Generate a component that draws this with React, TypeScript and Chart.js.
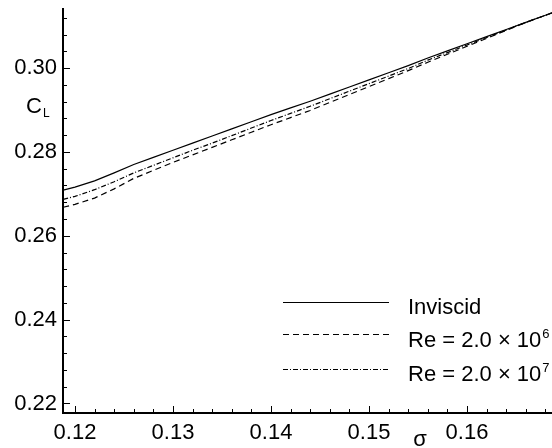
import React, { useEffect, useRef } from 'react';
import { Chart, registerables } from 'chart.js';

Chart.register(...registerables);

// ---- data ----
const sigma = [
  0.1188, 0.120, 0.122, 0.124, 0.126, 0.128, 0.130, 0.132, 0.134, 0.136, 0.138, 0.140, 0.142,
  0.144, 0.146, 0.148, 0.150, 0.152, 0.154, 0.156, 0.158, 0.160, 0.162, 0.164, 0.166, 0.168, 0.1687,
];
const inviscid = [
  0.2709, 0.2716, 0.2731, 0.2750, 0.2770, 0.2787, 0.2804, 0.2821, 0.2838, 0.2855, 0.2872, 0.2889, 0.2905,
  0.2921, 0.2938, 0.2955, 0.2972, 0.2989, 0.3006, 0.3024, 0.3041, 0.3058, 0.3075, 0.3092, 0.3109, 0.3126, 0.3132,
];
const re2e6 = [
  0.2668, 0.2675, 0.2690, 0.2712, 0.2737, 0.2756, 0.2775, 0.2793, 0.2811, 0.2829, 0.2847, 0.2865, 0.2882,
  0.2899, 0.2918, 0.2937, 0.2956, 0.2975, 0.2994, 0.3014, 0.3033, 0.3052, 0.3071, 0.3090, 0.3109, 0.3126, 0.3132,
];
const re2e7 = [
  0.2687, 0.2694, 0.2710, 0.2729, 0.2750, 0.2768, 0.2786, 0.2804, 0.2821, 0.2839, 0.2857, 0.2875, 0.2892,
  0.2909, 0.2927, 0.2945, 0.2963, 0.2981, 0.2999, 0.3019, 0.3037, 0.3055, 0.3073, 0.3091, 0.3109, 0.3126, 0.3132,
];
const xTicks = [0.12, 0.13, 0.14, 0.15, 0.16];
const yTicks = [0.22, 0.24, 0.26, 0.28, 0.30];
const xRange = [0.11878, 0.16867];
const yRange = [0.21773, 0.3141];
const xMinorStep = 0.002;
const yMinorStep = 0.004;
const seriesNames = ['Inviscid', 'Re = 2.0 × 10', 'Re = 2.0 × 10'];
const seriesExponents = ['', '6', '7'];
const xTitle = 'σ';
const yTitle = 'C';
const yTitleSub = 'L';

const FONT = "'Liberation Sans', Arial, Helvetica, sans-serif";

const decorPlugin = {
  id: 'decor',
  afterDraw(chart: any) {
    const ctx = chart.ctx as CanvasRenderingContext2D;
    const xs = chart.scales.x;
    const ys = chart.scales.y;
    const ca = chart.chartArea;
    ctx.save();
    ctx.strokeStyle = '#000';
    ctx.lineWidth = 1;
    // x ticks (inward)
    const kx0 = Math.ceil(xs.min / xMinorStep - 1e-6);
    const kx1 = Math.floor(xs.max / xMinorStep + 1e-6);
    for (let k = kx0; k <= kx1; k++) {
      const v = k * xMinorStep;
      const major = xTicks.some((t) => Math.abs(t - v) < 1e-6);
      const px = Math.round(xs.getPixelForValue(v)) + 0.5;
      const len = major ? 7 : 4;
      ctx.beginPath();
      ctx.moveTo(px, ca.bottom);
      ctx.lineTo(px, ca.bottom - len);
      ctx.stroke();
    }
    // y ticks (inward)
    const ky0 = Math.ceil(ys.min / yMinorStep - 1e-6);
    const ky1 = Math.floor(ys.max / yMinorStep + 1e-6);
    for (let k = ky0; k <= ky1; k++) {
      const v = k * yMinorStep;
      const major = yTicks.some((t) => Math.abs(t - v) < 1e-6);
      const py = Math.round(ys.getPixelForValue(v)) + 0.5;
      const len = major ? 7 : 4;
      ctx.beginPath();
      ctx.moveTo(ca.left, py);
      ctx.lineTo(ca.left + len, py);
      ctx.stroke();
    }
    // axis titles
    ctx.fillStyle = '#000';
    ctx.textBaseline = 'alphabetic';
    ctx.textAlign = 'left';
    ctx.font = `22px ${FONT}`;
    ctx.fillText(yTitle, 26, 113);
    const cw = ctx.measureText(yTitle).width;
    ctx.font = `12px ${FONT}`;
    ctx.fillText(yTitleSub, 26 + cw + 1, 117);
    ctx.font = `22px ${FONT}`;
    ctx.textAlign = 'center';
    ctx.fillText(xTitle, 420, 446);

    // legend
    const lineX0 = 283;
    const lineX1 = 389;
    const textX = 408;
    const lineYs = [302, 334, 369];
    const baseYs = [314, 347, 381];
    chart.data.datasets.forEach((ds: any, i: number) => {
      ctx.save();
      ctx.strokeStyle = ds.borderColor;
      ctx.lineWidth = ds.borderWidth;
      ctx.setLineDash(ds.borderDash || []);
      ctx.beginPath();
      ctx.moveTo(lineX0, lineYs[i] + 0.5);
      ctx.lineTo(lineX1, lineYs[i] + 0.5);
      ctx.stroke();
      ctx.restore();
      ctx.textAlign = 'left';
      ctx.font = `22px ${FONT}`;
      ctx.fillText(seriesNames[i], textX, baseYs[i]);
      if (seriesExponents[i]) {
        const w = ctx.measureText(seriesNames[i]).width;
        ctx.font = `13px ${FONT}`;
        ctx.fillText(seriesExponents[i], textX + w + 1, baseYs[i] - 9);
      }
    });
    ctx.restore();
  },
};

export default function App() {
  const ref = useRef<HTMLCanvasElement | null>(null);
  useEffect(() => {
    document.body.style.margin = '0';
    const canvas = ref.current;
    if (!canvas) return;
    const mk = (ys: number[]) => sigma.map((x, i) => ({ x, y: ys[i] }));
    const chart = new Chart(canvas, {
      type: 'line',
      data: {
        datasets: [
          { label: 'Inviscid', data: mk(inviscid), borderColor: '#000', borderWidth: 1.2, borderDash: [], pointRadius: 0, fill: false, tension: 0 },
          { label: 'Re = 2.0 × 10⁶', data: mk(re2e6), borderColor: '#000', borderWidth: 1.2, borderDash: [6, 4], pointRadius: 0, fill: false, tension: 0 },
          { label: 'Re = 2.0 × 10⁷', data: mk(re2e7), borderColor: '#000', borderWidth: 1.2, borderDash: [5, 2, 1, 2], pointRadius: 0, fill: false, tension: 0 },
        ],
      },
      options: {
        responsive: false,
        animation: false,
        events: [],
        layout: { padding: { top: 9, left: 0, right: 0, bottom: 0 } },
        plugins: { legend: { display: false }, tooltip: { enabled: false } },
        scales: {
          x: {
            type: 'linear',
            min: xRange[0],
            max: xRange[1],
            grid: { display: false, drawTicks: false },
            border: { display: true, color: '#000', width: 2 },
            ticks: {
              color: '#000',
              font: { family: FONT, size: 22 },
              padding: 7,
              maxRotation: 0,
              autoSkip: false,
              callback: (v: any) => Number(v).toFixed(2),
            },
            afterBuildTicks: (s: any) => { s.ticks = xTicks.map((value) => ({ value })); },
            afterFit: (s: any) => { s.height = 35; s.paddingLeft = 0; s.paddingRight = 0; s.paddingTop = 0; s.paddingBottom = 0; },
          },
          y: {
            type: 'linear',
            min: yRange[0],
            max: yRange[1],
            grid: { display: false, drawTicks: false },
            border: { display: true, color: '#000', width: 2 },
            ticks: {
              color: '#000',
              font: { family: FONT, size: 22 },
              padding: 6,
              autoSkip: false,
              callback: (v: any) => Number(v).toFixed(2),
            },
            afterBuildTicks: (s: any) => { s.ticks = yTicks.map((value) => ({ value })); },
            afterFit: (s: any) => { s.width = 63; s.paddingLeft = 0; s.paddingRight = 0; s.paddingTop = 0; s.paddingBottom = 0; },
          },
        },
      },
      plugins: [decorPlugin],
    });
    return () => chart.destroy();
  }, []);
  return (
    <div style={{ width: 552, height: 448 }}>
      <canvas ref={ref} width={552} height={448} style={{ display: 'block' }} />
    </div>
  );
}
